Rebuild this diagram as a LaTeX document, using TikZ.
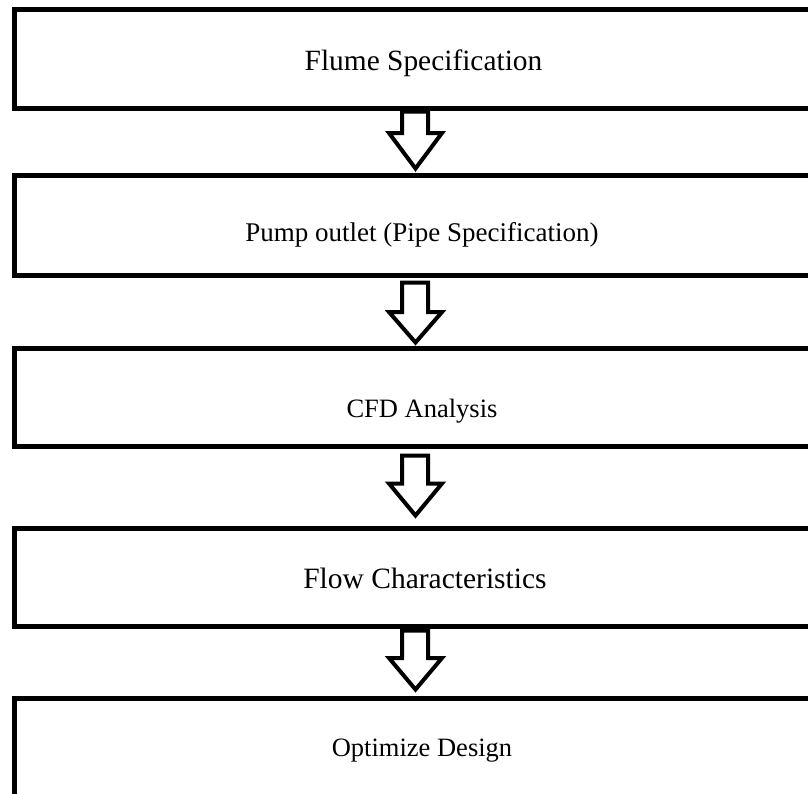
\documentclass[tikz,border=0pt]{standalone}
\usepackage{fontspec}
\setmainfont{Liberation Serif}
\usetikzlibrary{calc}
\tikzset{
  stage/.style={draw=black, line width=5pt, minimum width=815.5pt, inner sep=0pt, fill=none},
  stagetext/.style={anchor=base, inner sep=0pt},
  arrowline/.style={draw=black, fill=white, line width=4pt, line join=miter, miter limit=10}
}
\newcommand\blockarr[4]{%
  \draw[arrowline] ($(#1.south)+(-20,#2)$) -- ($(#1.south)+(-20,#3)$) -- ($(#1.south)+(-33,#3)$)
    -- ($(#1.south)+(-6.5,#4)$) -- ($(#1.south)+(20,#3)$) -- ($(#1.south)+(6,#3)$)
    -- ($(#1.south)+(6,#2)$) -- cycle;}
\begin{document}
\begin{tikzpicture}[x=1pt, y=-1pt]
  \useasboundingbox (0,0) rectangle (808,793);
  \clip (0,0) rectangle (808,793);
  \node[stage, minimum height=99pt]   (b1) at (422,59) {};
  \node[stage, minimum height=99.5pt] (b2) at (422,225.25) {};
  \node[stage, minimum height=98.5pt] (b3) at (422,397.25) {};
  \node[stage, minimum height=98.5pt] (b4) at (422,577.25) {};
  \node[stage, minimum height=99pt]   (b5) at (422,747.5) {};
  \node[stagetext, font=\fontsize{29.4}{34}\selectfont] (t1) at (423.5,70) {Flume Specification};
  \node[stagetext, font=\fontsize{27}{32}\selectfont] (t2) at (422,241) {Pump outlet (Pipe Specification)};
  \node[stagetext, font=\fontsize{26.5}{31}\selectfont] (t3) at (422,417) {CFD Analysis};
  \node[stagetext, font=\fontsize{29.5}{34}\selectfont] (t4) at (425,588) {Flow Characteristics};
  \node[stagetext, font=\fontsize{26.5}{31}\selectfont] (t5) at (422,756) {Optimize Design};
  \blockarr{b1}{0.5}{22}{57.5}
  \blockarr{b2}{5}{34.5}{65}
  \blockarr{b3}{6.5}{34.5}{66.5}
  \blockarr{b4}{1.5}{29}{60.5}
\end{tikzpicture}
\end{document}
